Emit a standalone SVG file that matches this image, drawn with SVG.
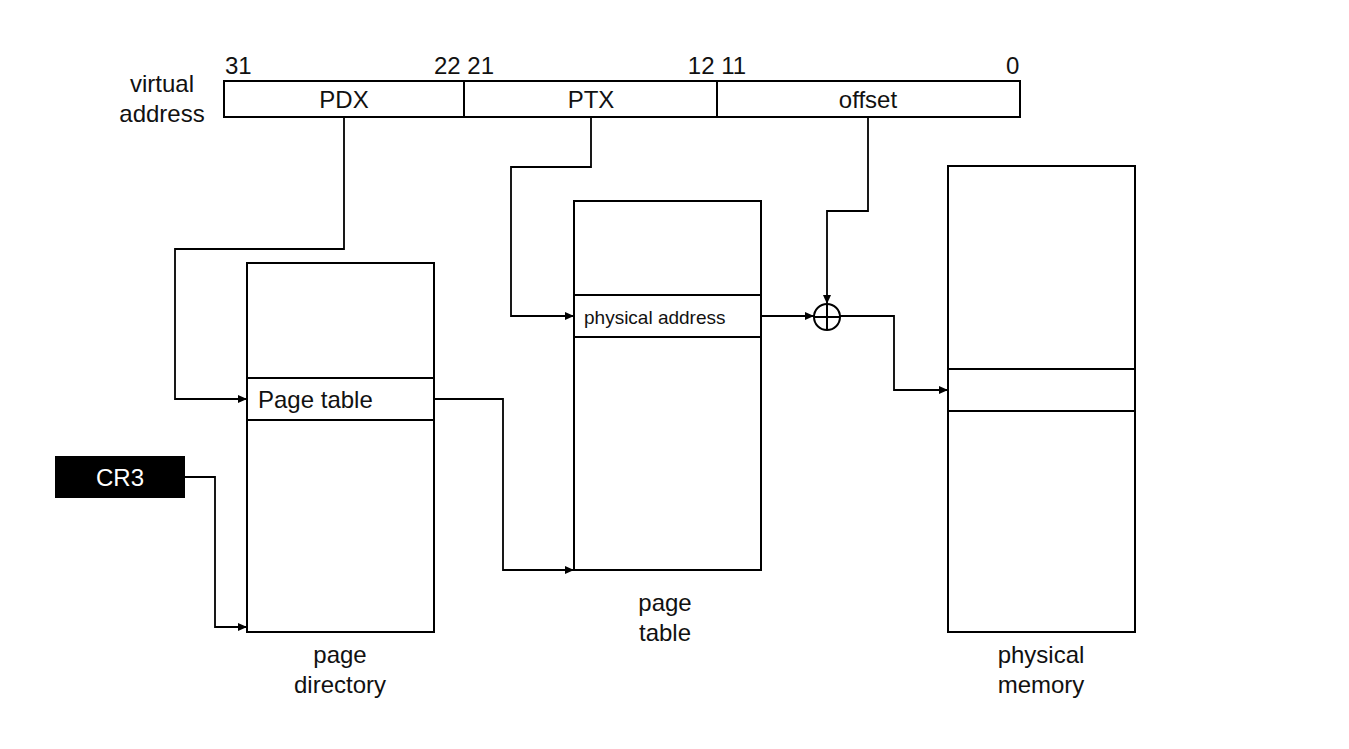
<svg xmlns="http://www.w3.org/2000/svg" width="1349" height="749" viewBox="0 0 1349 749">
<style>
text{font-family:"Liberation Sans","Noto Sans",sans-serif;font-size:24px;fill:#111}
.c{text-anchor:middle}
.box{fill:#fff;stroke:#000;stroke-width:2}
.ln{fill:none;stroke:#000;stroke-width:2}
.cn{fill:none;stroke:#000;stroke-width:1.8;marker-end:url(#a)}
</style>
<defs>
<marker id="a" markerWidth="10" markerHeight="8" refX="9" refY="4" orient="auto" markerUnits="userSpaceOnUse">
<path d="M0,0 L9,4 L0,8 Z" fill="#000"/>
</marker>
</defs>
<rect width="1349" height="749" fill="#fff"/>
<g id="vaddr">
<text class="c" x="162" y="92">virtual</text>
<text class="c" x="162" y="122">address</text>
<rect class="box" x="224" y="81" width="796" height="36"/>
<line class="ln" x1="464" y1="81" x2="464" y2="117"/>
<line class="ln" x1="717" y1="81" x2="717" y2="117"/>
<text x="225" y="74">31</text>
<text class="c" x="464" y="74">22 21</text>
<text class="c" x="717" y="74">12 11</text>
<text x="1006" y="74">0</text>
<text class="c" x="344" y="108">PDX</text>
<text class="c" x="591" y="108">PTX</text>
<text class="c" x="868" y="108">offset</text>
</g>
<g id="cr3">
<rect x="55" y="456" width="130" height="42" fill="#000"/>
<text class="c" x="120" y="486" style="fill:#fff">CR3</text>
</g>
<g id="pagedir">
<rect class="box" x="247" y="263" width="187" height="369"/>
<line class="ln" x1="247" y1="378" x2="434" y2="378"/>
<line class="ln" x1="247" y1="420" x2="434" y2="420"/>
<text x="258" y="408">Page table</text>
<text class="c" x="340" y="663">page</text>
<text class="c" x="340" y="693">directory</text>
</g>
<g id="pagetable">
<rect class="box" x="574" y="201" width="187" height="369"/>
<line class="ln" x1="574" y1="295" x2="761" y2="295"/>
<line class="ln" x1="574" y1="337" x2="761" y2="337"/>
<text x="584" y="324" style="font-size:19px">physical address</text>
<text class="c" x="665" y="611">page</text>
<text class="c" x="665" y="641">table</text>
</g>
<g id="plus">
<circle cx="827" cy="317" r="13" fill="#fff" stroke="#000" stroke-width="2"/>
<line class="ln" x1="814" y1="317" x2="840" y2="317"/>
<line class="ln" x1="827" y1="304" x2="827" y2="330"/>
</g>
<g id="physmem">
<rect class="box" x="948" y="166" width="187" height="466"/>
<line class="ln" x1="948" y1="369" x2="1135" y2="369"/>
<line class="ln" x1="948" y1="411" x2="1135" y2="411"/>
<text class="c" x="1041" y="663">physical</text>
<text class="c" x="1041" y="693">memory</text>
</g>
<g id="connectors">
<path class="cn" d="M344,117 V249 H175 V399 H247"/>
<path class="cn" d="M185,477 H215 V627 H247"/>
<path class="cn" d="M434,399 H503 V570 H574"/>
<path class="cn" d="M591,117 V167 H511 V316 H574"/>
<path class="cn" d="M761,316 H814"/>
<path class="cn" d="M868,117 V211 H827 V304"/>
<path class="cn" d="M840,316 H894 V390 H948"/>
</g>
</svg>
